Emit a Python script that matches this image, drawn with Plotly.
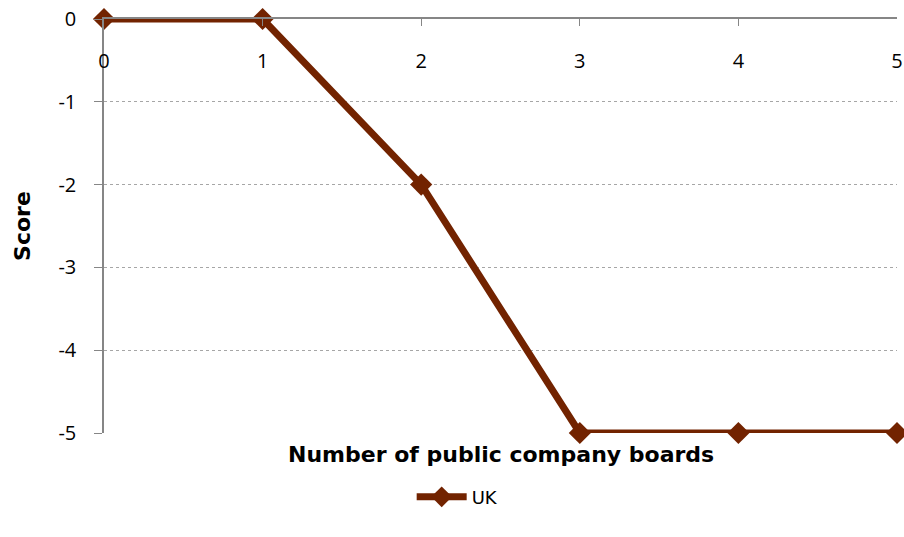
import plotly.graph_objects as go

boards = [0, 1, 2, 3, 4, 5]
uk_score = [0, 0, -2, -5, -5, -5]
x_ticks = [0, 1, 2, 3, 4, 5]
y_ticks = [0, -1, -2, -3, -4, -5]
y_tick_text = ["0", "-1", "-2", "-3", "-4", "-5"]

line_color = "#722300"
axis_gray = "#868686"

fig = go.Figure()
fig.add_trace(go.Scatter(
    x=boards, y=uk_score, name="UK", mode="lines+markers",
    line=dict(color=line_color, width=7),
    marker=dict(symbol="diamond", size=17, color=line_color),
    cliponaxis=False,
))
# transparent copy on the label axis so that axis gets drawn
fig.add_trace(go.Scatter(
    x=boards, y=uk_score, xaxis="x2", mode="lines",
    line=dict(width=0), opacity=0, hoverinfo="skip", showlegend=False,
))

fig.update_layout(
    width=904, height=537,
    margin=dict(l=104, r=7, t=19, b=104, autoexpand=False),
    plot_bgcolor="white", paper_bgcolor="white",
    font=dict(family="Open Sans", size=20, color="black"),
    showlegend=True,
    legend=dict(orientation="h", x=0.446, xanchor="center", y=-0.155, yanchor="middle",
                itemwidth=50, font=dict(family="DejaVu Sans", size=18)),
    # value axis crossing at y = 0, drawn along the top edge
    xaxis=dict(
        range=[0, 5], side="top", tickvals=x_ticks, showticklabels=False,
        showline=True, linecolor=axis_gray, linewidth=1.5,
        ticks="inside", ticklen=7, tickcolor=axis_gray,
        showgrid=False, zeroline=False, automargin=False,
    ),
    # tick labels for the category axis, set just below the top axis line
    xaxis2=dict(
        range=[0, 5], overlaying="x", anchor="free", position=0.933, side="bottom",
        tickvals=x_ticks, showline=False, ticks="", showgrid=False, zeroline=False,
        automargin=False,
    ),
    yaxis=dict(
        range=[-5, 0], tickvals=y_ticks, ticktext=y_tick_text,
        showline=True, linecolor=axis_gray, linewidth=1.5,
        ticks="outside", ticklen=8, tickcolor=axis_gray, ticklabelstandoff=14,
        showgrid=True, gridcolor="#a6a6a6", griddash="dot", gridwidth=1,
        zeroline=False, automargin=False,
        title=dict(text="<b>Score</b>", font=dict(family="DejaVu Sans", size=22), standoff=22),
    ),
    annotations=[dict(
        text="<b>Number of public company boards</b>", xref="paper", yref="paper",
        x=0.5, y=-0.053, xanchor="center", yanchor="middle", showarrow=False,
        font=dict(family="DejaVu Sans", size=22),
    )],
)

fig.write_html("out.html")
